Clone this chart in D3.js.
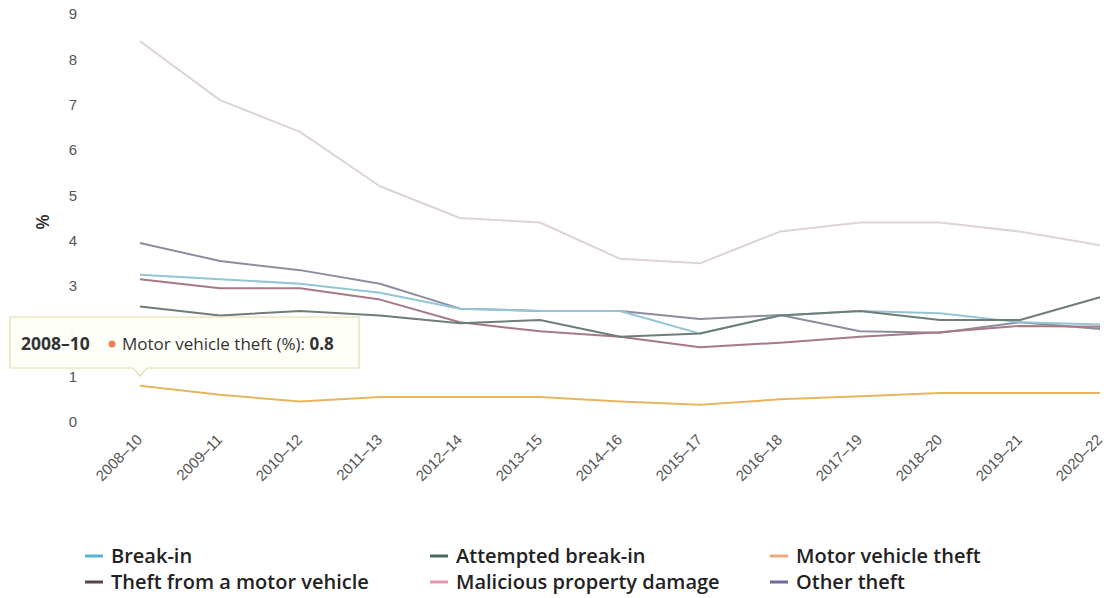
<!DOCTYPE html>
<html>
<head>
<meta charset="utf-8">
<script src="https://cdn.jsdelivr.net/npm/d3@7"></script>
<style>
  html, body { margin: 0; padding: 0; background: #ffffff; }
  svg { display: block; font-family: "Open Sans", "Noto Sans", sans-serif; }
</style>
</head>
<body>
<svg id="chart" width="1106" height="598"></svg>
<script>
// ---- data ----
const categories = ["2008–10","2009–11","2010–12","2011–13","2012–14","2013–15","2014–16","2015–17","2016–18","2017–19","2018–20","2019–21","2020–22"];
const breakIn        = [3.25, 3.15, 3.05, 2.85, 2.5, 2.45, 2.45, 1.95, 2.35, 2.45, 2.4, 2.2, 2.15];
const attemptedBreak = [2.55, 2.35, 2.45, 2.35, 2.18, 2.25, 1.88, 1.95, 2.35, 2.45, 2.25, 2.25, 2.75];
const motorTheft     = [0.8, 0.6, 0.45, 0.55, 0.55, 0.55, 0.45, 0.38, 0.5, 0.57, 0.64, 0.64, 0.64];
const theftFromMV    = [3.15, 2.95, 2.95, 2.7, 2.2, 2.0, 1.88, 1.65, 1.75, 1.88, 1.98, 2.12, 2.1];
const malicious      = [8.4, 7.1, 6.4, 5.2, 4.5, 4.4, 3.6, 3.5, 4.2, 4.4, 4.4, 4.2, 3.9];
const otherTheft     = [3.95, 3.55, 3.35, 3.05, 2.5, 2.45, 2.45, 2.27, 2.36, 2.0, 1.97, 2.2, 2.05];
const yTicks = [0,1,2,3,4,5,6,7,8,9];
const seriesNames = ["Break-in","Attempted break-in","Motor vehicle theft","Theft from a motor vehicle","Malicious property damage","Other theft"];
const seriesValues = [breakIn, attemptedBreak, motorTheft, theftFromMV, malicious, otherTheft];
const legendColors = ["#5ab4d6","#4a6a5e","#f2a878","#5a464c","#e892b4","#6e6a9c"];
const lineColors   = ["#93c6d2","#6f7d78","#e8b45e","#a57a84","#ddd3d8","#8f8ca2"];
const hoverSeries = 2, hoverIndex = 0;

// ---- layout ----
const svg = d3.select("#chart");
const x = d3.scalePoint().domain(categories).range([140, 1100]);
const y = d3.scaleLinear().domain([0, 9]).range([422, 14]);

// y axis labels
const yAxis = svg.append("g").attr("transform", "translate(80,0)")
  .call(d3.axisLeft(y).tickValues(yTicks).tickSize(0).tickPadding(0).tickFormat(d3.format("d")));
yAxis.select(".domain").remove();
yAxis.selectAll("text").attr("font-size", 15).attr("fill", "#555").attr("text-anchor", "middle").attr("dx", "-7");

svg.append("text").attr("transform", "translate(42,222) rotate(-90)")
  .attr("text-anchor", "middle").attr("dominant-baseline", "central")
  .attr("font-size", 18).attr("font-weight", 600).attr("fill", "#333").text("%");

// x axis labels
const xAxis = svg.append("g").attr("transform", "translate(0,430)")
  .call(d3.axisBottom(x).tickSize(0).tickPadding(0));
xAxis.select(".domain").remove();
xAxis.selectAll("text")
  .attr("font-size", 15).attr("fill", "#555")
  .attr("text-anchor", "end")
  .attr("transform", "translate(-1,7) rotate(-45)")
  .attr("dy", "0.35em");

// lines
const line = d3.line().x((d, i) => x(categories[i])).y(d => y(d));
const order = [4, 5, 0, 3, 1, 2];
svg.append("g").selectAll("path").data(order).join("path")
  .attr("d", k => line(seriesValues[k]))
  .attr("fill", "none")
  .attr("stroke", k => lineColors[k])
  .attr("stroke-width", 2)
  .attr("stroke-linejoin", "round");

// legend
const legend = svg.append("g");
seriesNames.forEach((name, i) => {
  const col = i % 3, row = Math.floor(i / 3);
  const gx = [85, 430, 770][col], gy = [556, 582][row];
  const g = legend.append("g").attr("transform", `translate(${gx},${gy})`);
  g.append("line").attr("x1", 0).attr("x2", 18).attr("y1", 0).attr("y2", 0)
    .attr("stroke", legendColors[i]).attr("stroke-width", 3);
  g.append("text").attr("x", 26).attr("y", 0).attr("dy", "0.35em")
    .attr("font-size", 20).attr("font-weight", 600).attr("fill", "#222").text(name);
});

// tooltip
const px = x(categories[hoverIndex]);
const tt = svg.append("g");
const L = 10, T = 317, R = 359, B = 368, tipY = 376;
tt.append("path")
  .attr("d", `M${L},${T}H${R}V${B}H${px + 7}L${px},${tipY}L${px - 7},${B}H${L}Z`)
  .attr("fill", "#fffffa").attr("fill-opacity", 0.96)
  .attr("stroke", "#e4dca8").attr("stroke-width", 1.2);
const tx = tt.append("text").attr("x", 21).attr("y", 350).attr("font-size", 17.5).attr("fill", "#333");
tx.append("tspan").attr("font-weight", 700).text(categories[hoverIndex]);
tt.append("circle").attr("cx", 112).attr("cy", 344).attr("r", 3.5).attr("fill", "#e8805a");
const tx2 = tt.append("text").attr("x", 122).attr("y", 350).attr("font-size", 17).attr("fill", "#333");
tx2.append("tspan").text(seriesNames[hoverSeries] + " (%): ");
tx2.append("tspan").attr("font-weight", 700).text(d3.format(".1f")(seriesValues[hoverSeries][hoverIndex]));
</script>
</body>
</html>
